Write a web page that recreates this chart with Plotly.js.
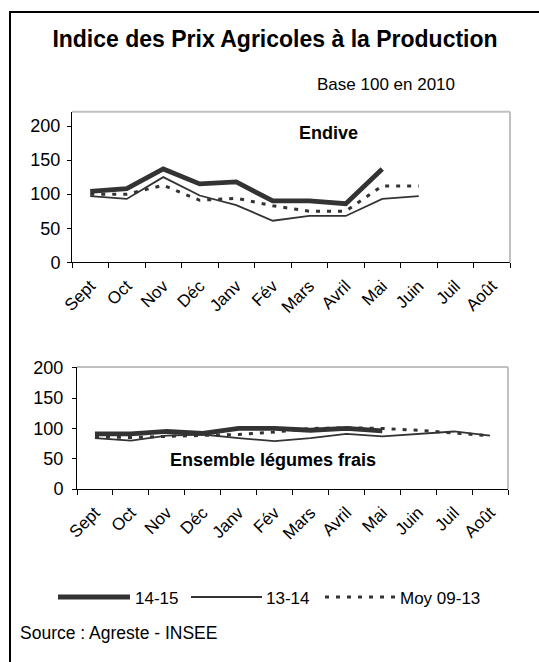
<!DOCTYPE html>
<html>
<head>
<meta charset="utf-8">
<script src="https://cdn.plot.ly/plotly-3.0.1.min.js"></script>
<style>
  html, body { margin: 0; padding: 0; background: #fff; }
  #chart { width: 539px; height: 662px; }
</style>
</head>
<body>
<div id="chart"></div>
<script>
// ---- Data ----
const months = ['Sept','Oct','Nov','Déc','Janv','Fév','Mars','Avril','Mai','Juin','Juil','Août'];
const seriesNames = ['14-15','13-14','Moy 09-13'];

// Endive
const endive_1415 = [104,108,137,115,118,90,90,86,137];
const endive_1314 = [97,93,125,98,84,61,68,68,93,97];
const endive_moy  = [100,100,113,91,94,83,75,75,112,112];

// Ensemble légumes frais
const leg_1415 = [91,91,95,92,100,100,97,100,96];
const leg_1314 = [84,80,88,90,84,79,84,91,87,91,95,88];
const leg_moy  = [86,85,87,88,90,94,100,101,100,97,93,88];

const yTicks = [0,50,100,150,200];

// ---- Layout helpers (pixel -> paper) ----
const W = 539, H = 662;
const px = x => x / W;
const py = y => 1 - y / H;
const FONT = 'Liberation Sans, Arial, sans-serif';
const LINE = '#333333';

const styles = [
  {width: 4.8, dash: 'solid'},
  {width: 1.8, dash: 'solid'},
  {width: 3,   dash: '4px,7px'}
];

function mk(vals, idx, xa, ya) {
  return {
    type: 'scatter', mode: 'lines',
    x: months.slice(0, vals.length), y: vals,
    xaxis: xa, yaxis: ya,
    name: seriesNames[idx],
    line: {color: LINE, width: styles[idx].width, dash: styles[idx].dash},
    showlegend: false, hoverinfo: 'skip'
  };
}

const traces = [
  mk(endive_moy, 2, 'x', 'y'),
  mk(endive_1314, 1, 'x', 'y'),
  mk(endive_1415, 0, 'x', 'y'),
  mk(leg_moy, 2, 'x2', 'y2'),
  mk(leg_1314, 1, 'x2', 'y2'),
  mk(leg_1415, 0, 'x2', 'y2')
];

function xAxis(d0, d1, anchor, fs, standoff) {
  return {
    domain: [px(d0), px(d1)], anchor: anchor,
    type: 'category', categoryorder: 'array', categoryarray: months,
    range: [-0.5, months.length - 0.5],
    tickson: 'boundaries', ticks: 'outside', ticklen: 5, tickcolor: '#000', tickwidth: 1,
    showline: true, linecolor: '#000', linewidth: 1,
    showgrid: false, zeroline: false,
    tickangle: -45, ticklabelstandoff: standoff,
    tickfont: {family: FONT, size: fs, color: '#000'},
    fixedrange: true
  };
}
function yAxis(top, bottom, maxv, anchor, fs, standoff) {
  return {
    domain: [py(bottom), py(top)], anchor: anchor,
    range: [0, maxv], tickvals: yTicks, ticktext: yTicks.map(String),
    ticks: 'outside', ticklen: 4, tickcolor: '#000', tickwidth: 1,
    showline: true, linecolor: '#000', linewidth: 1,
    showgrid: false, zeroline: false,
    ticklabelstandoff: standoff,
    tickfont: {family: FONT, size: fs, color: '#000'},
    fixedrange: true
  };
}

const shapes = [
  // outer frame (continues beyond the right and bottom edges)
  {type: 'rect', xref: 'paper', yref: 'paper', x0: px(10), x1: px(560), y0: py(690), y1: py(12),
   line: {color: '#000', width: 2}, fillcolor: 'rgba(0,0,0,0)', layer: 'above'},
  // grey plot borders (top & right)
  {type: 'line', xref: 'x domain', yref: 'y domain', x0: 0, x1: 1, y0: 1, y1: 1, line: {color: '#c0c0c0', width: 2}},
  {type: 'line', xref: 'x domain', yref: 'y domain', x0: 1, x1: 1, y0: 0, y1: 1, line: {color: '#c0c0c0', width: 2}},
  {type: 'line', xref: 'x2 domain', yref: 'y2 domain', x0: 0, x1: 1, y0: 1, y1: 1, line: {color: '#c0c0c0', width: 2}},
  {type: 'line', xref: 'x2 domain', yref: 'y2 domain', x0: 1, x1: 1, y0: 0, y1: 1, line: {color: '#c0c0c0', width: 2}},
  // legend symbols
  {type: 'line', xref: 'paper', yref: 'paper', x0: px(58), x1: px(130), y0: py(597), y1: py(597),
   line: {color: LINE, width: styles[0].width}},
  {type: 'line', xref: 'paper', yref: 'paper', x0: px(191), x1: px(262), y0: py(597), y1: py(597),
   line: {color: LINE, width: styles[1].width}},
  {type: 'line', xref: 'paper', yref: 'paper', x0: px(325), x1: px(396), y0: py(597), y1: py(597),
   line: {color: LINE, width: styles[2].width, dash: styles[2].dash}}
];

function ann(text, x, y, size, bold, xanchor) {
  return {
    xref: 'paper', yref: 'paper', x: px(x), y: py(y),
    xanchor: xanchor || 'center', yanchor: 'middle',
    text: bold ? '<b>' + text + '</b>' : text, showarrow: false,
    font: {family: FONT, size: size, color: '#000'}
  };
}

const annotations = [
  ann('Base 100 en 2010', 386, 85, 17, false),
  ann('Endive', 328, 133, 18, true),
  ann('Ensemble légumes frais', 273, 460, 18, true),
  ann(seriesNames[0], 133, 598, 17, false, 'left'),
  ann(seriesNames[1], 264, 598, 17, false, 'left'),
  ann(seriesNames[2], 398, 598, 17, false, 'left'),
  ann('Source : Agreste - INSEE', 18, 633, 17.5, false, 'left')
];

const layout = {
  width: W, height: H,
  margin: {l: 0, r: 0, t: 0, b: 0, pad: 0},
  paper_bgcolor: '#fff', plot_bgcolor: '#fff',
  showlegend: false,
  title: {
    text: '<b>Indice des Prix Agricoles à la Production</b>',
    x: px(275), xref: 'paper', xanchor: 'center',
    y: py(39), yref: 'container', yanchor: 'middle',
    font: {family: FONT, size: 23, color: '#000'}
  },
  xaxis: xAxis(72, 510, 'y', 17, 6),
  yaxis: yAxis(111.7, 262.3, 221, 'x', 18, 3),
  xaxis2: xAxis(77, 508, 'y2', 17, 6),
  yaxis2: yAxis(367, 489, 201.5, 'x2', 18, 5),
  shapes: shapes,
  annotations: annotations
};

Plotly.newPlot('chart', traces, layout, {displayModeBar: false, staticPlot: true});
</script>
</body>
</html>
